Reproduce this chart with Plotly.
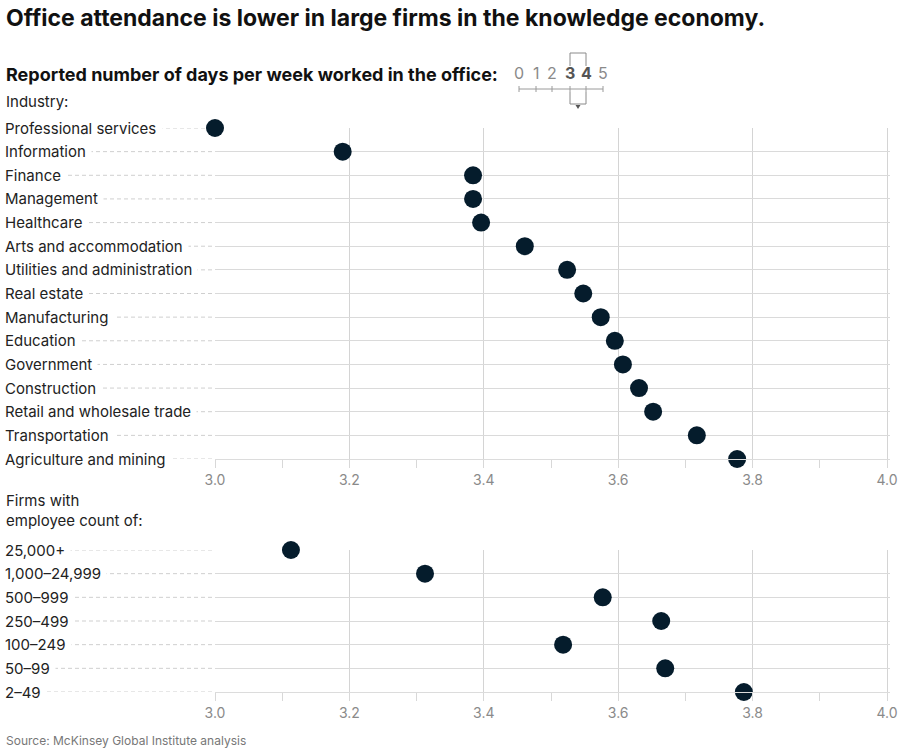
import plotly.graph_objects as go

industries = ["Professional services", "Information", "Finance", "Management", "Healthcare",
              "Arts and accommodation", "Utilities and administration", "Real estate",
              "Manufacturing", "Education", "Government", "Construction",
              "Retail and wholesale trade", "Transportation", "Agriculture and mining"]
industry_days = [3.00, 3.19, 3.384, 3.384, 3.396, 3.461, 3.524, 3.548, 3.574, 3.595,
                 3.607, 3.631, 3.652, 3.717, 3.777]

firm_sizes = ["25,000+", "1,000–24,999", "500–999", "250–499", "100–249", "50–99", "2–49"]
firm_days = [3.113, 3.3125, 3.577, 3.664, 3.518, 3.670, 3.787]

tick_vals = [3.0, 3.2, 3.4, 3.6, 3.8, 4.0]
tick_text = ["3.0", "3.2", "3.4", "3.6", "3.8", "4.0"]
scale_digits = ["0", "1", "2", "3", "4", "5"]

W, H = 900, 752
ML, MR = 215, 10
PW = W - ML - MR
FONT = "Inter"
DOT = "#051c2c"
TXT = "#222222"
GRID = "#d4d4d4"


def xp(px):
    return (px - ML) / PW


def yp(py):
    return 1 - py / H


fig = go.Figure()
fig.add_trace(go.Scatter(x=industry_days, y=industries, mode="markers",
                         marker=dict(size=18, color=DOT), cliponaxis=False,
                         xaxis="x", yaxis="y", hoverinfo="x+y"))
fig.add_trace(go.Scatter(x=firm_days, y=firm_sizes, mode="markers",
                         marker=dict(size=18, color=DOT), cliponaxis=False,
                         xaxis="x2", yaxis="y2", hoverinfo="x+y"))

xcommon = dict(range=[3.0, 3.0 + PW / 672], tickvals=tick_vals, ticktext=tick_text,
               showgrid=True, gridcolor=GRID, gridwidth=1,
               ticks="outside", ticklen=8, tickcolor="#d8d8d8",
               minor=dict(tickvals=[3.1, 3.3, 3.5, 3.7, 3.9], ticks="outside", ticklen=8,
                          tickcolor="#d8d8d8", showgrid=False),
               showline=True, linecolor="#dcdcdc", zeroline=False, fixedrange=True,
               tickfont=dict(family=FONT, size=14, color="#8a8a8a"))
ycommon = dict(type="category", showgrid=True, gridcolor="#dadada", gridwidth=1,
               showticklabels=False, ticks="", zeroline=False, showline=False, fixedrange=True)

top_dom = [yp(459), yp(128)]
bot_dom = [yp(692), yp(550)]

fig.update_layout(
    width=W, height=H, margin=dict(l=ML, r=MR, t=0, b=0),
    paper_bgcolor="white", plot_bgcolor="white", showlegend=False,
    font=dict(family=FONT, color=TXT),
    xaxis=dict(**xcommon, anchor="y"),
    yaxis=dict(**ycommon, domain=top_dom, anchor="x",
               categoryorder="array", categoryarray=industries,
               range=[len(industries) - 1, 0]),
    xaxis2=dict(**xcommon, anchor="y2"),
    yaxis2=dict(**ycommon, domain=bot_dom, anchor="x2",
                categoryorder="array", categoryarray=firm_sizes,
                range=[len(firm_sizes) - 1, 0]),
)

annotations = []
shapes = []

for names, yref in ((industries, "y"), (firm_sizes, "y2")):
    for n in names:
        annotations.append(dict(x=xp(3), xref="paper", y=n, yref=yref, xanchor="left",
                                yanchor="middle", text=n + "&nbsp;", showarrow=False,
                                bgcolor="white", borderpad=1,
                                font=dict(family=FONT, size=15, color=TXT)))
        shapes.append(dict(type="line", xref="paper", yref=yref, x0=xp(5), x1=0,
                           y0=n, y1=n, layer="below",
                           line=dict(color="#cfcfcf", width=1, dash="4px,3px")))

# Header texts
annotations += [
    dict(x=xp(4), y=yp(18), xref="paper", yref="paper", xanchor="left", yanchor="middle",
         text="<b>Office attendance is lower in large firms in the knowledge economy.</b>",
         showarrow=False, font=dict(family=FONT, size=23, color="#111")),
    dict(x=xp(4), y=yp(74), xref="paper", yref="paper", xanchor="left", yanchor="middle",
         text="<b>Reported number of days per week worked in the office:</b>",
         showarrow=False, font=dict(family=FONT, size=18, color="#111")),
    dict(x=xp(4), y=yp(102), xref="paper", yref="paper", xanchor="left", yanchor="middle",
         text="Industry:", showarrow=False, font=dict(family=FONT, size=15, color=TXT)),
    dict(x=xp(4), y=yp(510), xref="paper", yref="paper", xanchor="left", yanchor="middle",
         text="Firms with<br>employee count of:", align="left", showarrow=False,
         font=dict(family=FONT, size=15, color=TXT)),
    dict(x=xp(4), y=yp(740), xref="paper", yref="paper", xanchor="left", yanchor="middle",
         text="Source: McKinsey Global Institute analysis", showarrow=False,
         font=dict(family=FONT, size=12, color="#777")),
]

# Scale icon
digit_px = [519, 536, 552, 570, 586, 603]
for d, px in zip(scale_digits, digit_px):
    bold = d in ("3", "4")
    annotations.append(dict(x=xp(px), y=yp(73), xref="paper", yref="paper",
                            xanchor="center", yanchor="middle",
                            text=f"<b>{d}</b>" if bold else d, showarrow=False,
                            font=dict(family=FONT, size=16,
                                      color="#555" if bold else "#8a8a8a")))
    shapes.append(dict(type="line", xref="paper", yref="paper", x0=xp(px), x1=xp(px),
                       y0=yp(86), y1=yp(92), line=dict(color="#9a9a9a", width=1)))
shapes.append(dict(type="line", xref="paper", yref="paper", x0=xp(519), x1=xp(603),
                   y0=yp(89), y1=yp(89), line=dict(color="#9a9a9a", width=1)))
# brackets
for (ya, yb) in ((53, 66), (92, 104)):
    for px in (570, 586):
        shapes.append(dict(type="line", xref="paper", yref="paper", x0=xp(px), x1=xp(px),
                           y0=yp(ya), y1=yp(yb), line=dict(color="#8a8a8a", width=1)))
for yy in (53, 104):
    shapes.append(dict(type="line", xref="paper", yref="paper", x0=xp(570), x1=xp(586),
                       y0=yp(yy), y1=yp(yy), line=dict(color="#8a8a8a", width=1)))
shapes.append(dict(type="path", xref="paper", yref="paper",
                   path=f"M {xp(575.5)} {yp(105)} L {xp(580.5)} {yp(105)} L {xp(578)} {yp(109)} Z",
                   fillcolor="#555", line=dict(width=0)))

fig.update_layout(annotations=annotations, shapes=shapes)
fig.write_html("out.html")
